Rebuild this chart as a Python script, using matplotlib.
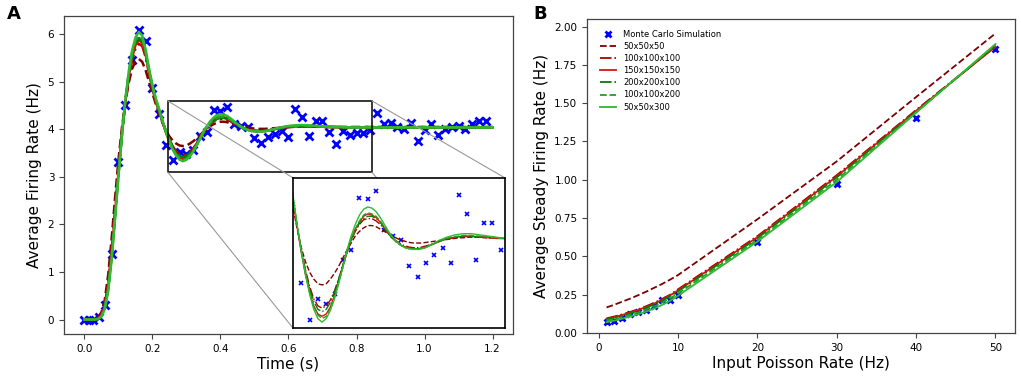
import matplotlib.pyplot as plt
import numpy as np
from matplotlib.patches import Rectangle, ConnectionPatch

# ---- panel A data ----
t_mc = [0.0, 0.012, 0.024, 0.042, 0.06, 0.08, 0.10, 0.12, 0.14, 0.16, 0.18, 0.20,
        0.22, 0.24, 0.26, 0.28, 0.30, 0.32, 0.34, 0.36, 0.38, 0.40, 0.42, 0.44,
        0.46, 0.48, 0.50, 0.52, 0.54, 0.56, 0.58, 0.60, 0.62, 0.64, 0.66, 0.68,
        0.70, 0.72, 0.74, 0.76, 0.78, 0.80, 0.82, 0.84, 0.86, 0.88, 0.90, 0.92,
        0.94, 0.96, 0.98, 1.00, 1.02, 1.04, 1.06, 1.08, 1.10, 1.12, 1.14, 1.16, 1.18]
rate_mc = [0.0, 0.0, 0.0, 0.05, 0.31, 1.38, 3.32, 4.52, 5.45, 6.08, 5.85, 4.87,
           4.32, 3.67, 3.35, 3.53, 3.49, 3.57, 3.86, 3.95, 4.40, 4.39, 4.46, 4.12,
           4.07, 4.04, 3.81, 3.72, 3.84, 3.91, 3.97, 3.84, 4.42, 4.26, 3.86, 4.18,
           4.18, 3.95, 3.70, 3.97, 3.88, 3.93, 3.93, 3.98, 4.35, 4.11, 4.13, 4.05,
           4.00, 4.14, 3.76, 3.98, 4.11, 3.88, 4.00, 4.05, 4.08, 4.00, 4.12, 4.18, 4.18]

t_model = np.concatenate([np.round(np.arange(0, 0.73, 0.01), 2),
                          [0.76, 0.80, 0.90, 1.00, 1.10, 1.20]])

r_50x50x50 = [0, 0, 0, 0.01, 0.05, 0.15, 0.42, 0.95, 1.70, 2.55,
              3.35, 4.02, 4.55, 4.97, 5.27, 5.43, 5.48, 5.42, 5.24, 5.00,
              4.76, 4.53, 4.32, 4.13, 3.97, 3.85, 3.76, 3.70, 3.66, 3.65,
              3.66, 3.70, 3.75, 3.81, 3.88, 3.95, 4.01, 4.07, 4.11, 4.14,
              4.16, 4.16, 4.15, 4.13, 4.11, 4.09, 4.07, 4.05, 4.035, 4.025,
              4.015, 4.01, 4.01, 4.01, 4.015, 4.02, 4.025, 4.03, 4.035, 4.04,
              4.045, 4.05, 4.055, 4.055, 4.06, 4.06, 4.06, 4.06, 4.055, 4.055,
              4.055, 4.05, 4.05, 4.05, 4.05, 4.05, 4.05, 4.05, 4.05]
r_100x100x100 = [0, 0, 0, 0.01, 0.03, 0.10, 0.32, 0.76, 1.45, 2.28,
                 3.12, 3.90, 4.55, 5.06, 5.44, 5.70, 5.80, 5.75, 5.52, 5.18,
                 4.86, 4.58, 4.37, 4.15, 3.95, 3.78, 3.64, 3.53, 3.47, 3.45,
                 3.47, 3.52, 3.60, 3.70, 3.82, 3.93, 4.03, 4.11, 4.17, 4.21,
                 4.22, 4.22, 4.20, 4.17, 4.13, 4.09, 4.05, 4.025, 4.00, 3.985,
                 3.975, 3.97, 3.97, 3.975, 3.985, 3.995, 4.01, 4.02, 4.035, 4.045,
                 4.05, 4.055, 4.06, 4.065, 4.065, 4.065, 4.06, 4.06, 4.06, 4.055,
                 4.055, 4.05, 4.05, 4.045, 4.04, 4.04, 4.04, 4.04, 4.04]
r_150x150x150 = [0, 0, 0, 0, 0.02, 0.08, 0.28, 0.70, 1.38, 2.22,
                 3.08, 3.88, 4.56, 5.10, 5.50, 5.77, 5.88, 5.82, 5.57, 5.21,
                 4.88, 4.60, 4.38, 4.15, 3.93, 3.74, 3.59, 3.47, 3.40, 3.38,
                 3.40, 3.46, 3.56, 3.68, 3.81, 3.93, 4.04, 4.13, 4.19, 4.24,
                 4.26, 4.25, 4.23, 4.19, 4.14, 4.09, 4.05, 4.02, 3.99, 3.975,
                 3.965, 3.96, 3.96, 3.965, 3.975, 3.99, 4.005, 4.02, 4.035, 4.045,
                 4.055, 4.06, 4.065, 4.065, 4.07, 4.065, 4.065, 4.06, 4.06, 4.055,
                 4.055, 4.05, 4.05, 4.045, 4.04, 4.04, 4.04, 4.04, 4.04]
g_200x200x100 = [0, 0, 0, 0, 0.01, 0.07, 0.26, 0.67, 1.34, 2.18,
                 3.05, 3.86, 4.57, 5.13, 5.55, 5.82, 5.92, 5.85, 5.59, 5.22,
                 4.89, 4.61, 4.39, 4.16, 3.95, 3.77, 3.62, 3.51, 3.44, 3.42,
                 3.44, 3.50, 3.59, 3.70, 3.82, 3.94, 4.04, 4.12, 4.18, 4.22,
                 4.24, 4.24, 4.22, 4.19, 4.14, 4.09, 4.05, 4.02, 3.99, 3.975,
                 3.965, 3.96, 3.96, 3.965, 3.975, 3.99, 4.005, 4.02, 4.035, 4.045,
                 4.055, 4.06, 4.065, 4.07, 4.07, 4.07, 4.065, 4.065, 4.06, 4.06,
                 4.055, 4.055, 4.05, 4.045, 4.04, 4.04, 4.04, 4.04, 4.04]
g_100x100x200 = [0, 0, 0, 0, 0.01, 0.07, 0.25, 0.65, 1.32, 2.17,
                 3.05, 3.88, 4.60, 5.17, 5.60, 5.87, 5.97, 5.90, 5.63, 5.25,
                 4.91, 4.63, 4.40, 4.16, 3.94, 3.75, 3.59, 3.47, 3.39, 3.36,
                 3.38, 3.45, 3.55, 3.67, 3.80, 3.93, 4.04, 4.13, 4.20, 4.25,
                 4.27, 4.26, 4.24, 4.20, 4.15, 4.10, 4.05, 4.01, 3.99, 3.97,
                 3.96, 3.96, 3.96, 3.965, 3.975, 3.99, 4.005, 4.02, 4.035, 4.05,
                 4.06, 4.065, 4.07, 4.075, 4.075, 4.075, 4.07, 4.07, 4.065, 4.06,
                 4.06, 4.055, 4.05, 4.045, 4.04, 4.04, 4.04, 4.04, 4.04]
g_50x50x300 = [0, 0, 0, 0, 0.01, 0.06, 0.22, 0.60, 1.25, 2.10,
               3.00, 3.85, 4.60, 5.20, 5.65, 5.93, 6.05, 5.97, 5.68, 5.28,
               4.93, 4.65, 4.42, 4.17, 3.94, 3.74, 3.57, 3.44, 3.36, 3.33,
               3.36, 3.43, 3.53, 3.66, 3.80, 3.95, 4.07, 4.17, 4.25, 4.30,
               4.32, 4.31, 4.28, 4.23, 4.17, 4.11, 4.06, 4.02, 3.99, 3.97,
               3.96, 3.955, 3.955, 3.96, 3.97, 3.99, 4.01, 4.03, 4.045, 4.06,
               4.07, 4.08, 4.085, 4.09, 4.09, 4.09, 4.085, 4.08, 4.075, 4.07,
               4.065, 4.06, 4.055, 4.045, 4.04, 4.04, 4.04, 4.04, 4.04]

# ---- panel B data ----
poisson_rate = [1, 2, 3, 4, 5, 6, 7, 8, 9, 10, 20, 30, 40, 50]
steady_mc = [0.074, 0.077, 0.098, 0.125, 0.136, 0.151, 0.179, 0.217, 0.217, 0.245,
             0.595, 0.974, 1.40, 1.853]
s_50x50x50 = [0.167, 0.185, 0.205, 0.225, 0.247, 0.27, 0.295, 0.32, 0.348, 0.378,
              0.742, 1.12, 1.54, 1.955]
s_100x100x100 = [0.096, 0.108, 0.122, 0.138, 0.155, 0.175, 0.197, 0.222, 0.25, 0.285,
                 0.632, 1.03, 1.455, 1.87]
s_150x150x150 = [0.092, 0.104, 0.118, 0.134, 0.151, 0.17, 0.192, 0.217, 0.245, 0.278,
                 0.625, 1.022, 1.45, 1.868]
s_200x200x100 = [0.088, 0.1, 0.113, 0.129, 0.146, 0.165, 0.187, 0.211, 0.24, 0.272,
                 0.618, 1.015, 1.445, 1.875]
s_100x100x200 = [0.08, 0.091, 0.104, 0.119, 0.135, 0.153, 0.174, 0.198, 0.226, 0.258,
                 0.607, 1.0, 1.44, 1.88]
s_50x50x300 = [0.071, 0.081, 0.094, 0.108, 0.123, 0.14, 0.16, 0.183, 0.21, 0.243,
               0.596, 0.985, 1.437, 1.886]

labels = ['50x50x50', '100x100x100', '150x150x150', '200x200x100', '100x100x200', '50x50x300']
colors = ['#800000', '#b00000', '#dd1111', '#008000', '#22a022', '#33b833']
styles = ['--', '-.', '-', '-.', '--', '-']
curves_A = [r_50x50x50, r_100x100x100, r_150x150x150, g_200x200x100, g_100x100x200, g_50x50x300]
curves_B = [s_50x50x50, s_100x100x100, s_150x150x150, s_200x200x100, s_100x100x200, s_50x50x300]

fig = plt.figure(figsize=(10.21, 3.78), dpi=100)
axA = fig.add_axes([0.0627, 0.1164, 0.4397, 0.8413])
axB = fig.add_axes([0.575, 0.119, 0.419, 0.8307])

for ax in (axA, axB):
    for sp in ax.spines.values():
        sp.set_color('#444444')
        sp.set_linewidth(0.9)
    ax.tick_params(labelsize=7.5, width=0.8, length=3.5, color='#444444')

# panel A
axA.plot(t_mc, rate_mc, 'x', color='blue', ms=6, mew=2)
for y, c, ls in zip(curves_A, colors, styles):
    axA.plot(t_model, y, ls, color=c, lw=1.8)
axA.set_xticks([0.0, 0.2, 0.4, 0.6, 0.8, 1.0, 1.2])
axA.set_xlabel('Time (s)', fontsize=11, labelpad=2)
axA.set_ylabel('Average Firing Rate (Hz)', fontsize=11, labelpad=4)
axA.add_patch(Rectangle((0.245, 3.1), 0.6, 1.5, fill=False, edgecolor='black', lw=1.1, zorder=3))

axins = axA.inset_axes([0.51, 0.019, 0.472, 0.472])
axins.plot(t_mc, rate_mc, 'x', color='blue', ms=2.5, mew=1.2)
for y, c, ls in zip(curves_A, colors, styles):
    axins.plot(t_model, y, ls, color=c, lw=1.0)
axins.set_xlim(0.22, 0.73)
axins.set_ylim(3.28, 4.57)
axins.set_xticks([])
axins.set_yticks([])
for sp in axins.spines.values():
    sp.set_linewidth(1.2)
    sp.set_color('black')

corners = [((0.245, 4.6), (0, 1)), ((0.245, 3.1), (0, 0)),
           ((0.845, 4.6), (1, 1)), ((0.845, 3.1), (1, 0))]
for pa, pb in corners:
    con = ConnectionPatch(xyA=pa, coordsA=axA.transData, xyB=pb, coordsB=axins.transAxes,
                          color='#999999', lw=0.8, zorder=4)
    axA.add_artist(con)

# panel B
axB.plot(poisson_rate, steady_mc, 'x', color='blue', ms=5, mew=2, label='Monte Carlo Simulation')
for y, c, ls, lab in zip(curves_B, colors, styles, labels):
    axB.plot(poisson_rate, y, ls, color=c, lw=1.3, label=lab)
axB.set_ylim(bottom=0)
axB.set_yticks(np.arange(0, 2.01, 0.25))
axB.set_xlabel('Input Poisson Rate (Hz)', fontsize=11, labelpad=2)
axB.set_ylabel('Average Steady Firing Rate (Hz)', fontsize=11, labelpad=4)
axB.legend(loc='upper left', bbox_to_anchor=(0.012, 0.99), fontsize=6, frameon=False,
           labelspacing=0.38)

fig.text(0.007, 0.962, 'A', fontsize=13, fontweight='bold', va='center')
fig.text(0.522, 0.962, 'B', fontsize=13, fontweight='bold', va='center')

fig.savefig('out.png', dpi=100)
